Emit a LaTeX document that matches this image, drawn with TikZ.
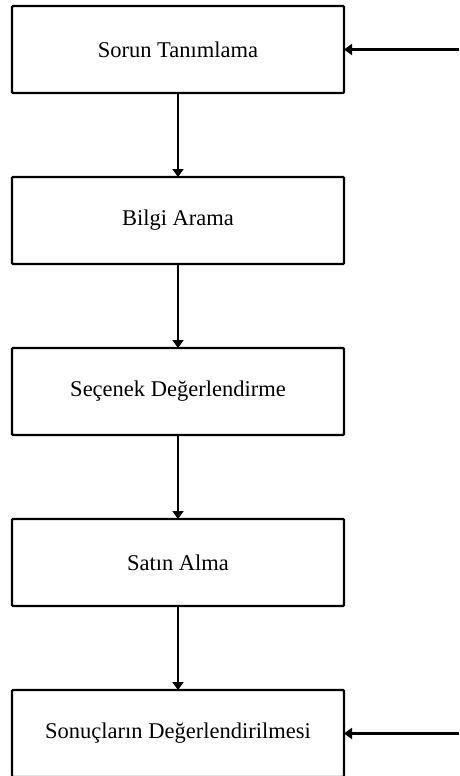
\documentclass[tikz,border=0pt]{standalone}
\usepackage{fontspec}
\setmainfont{Liberation Serif}
\usetikzlibrary{arrows.meta,positioning}

\tikzset{
  stagebox/.style={draw,line width=2.2pt,rounded corners=1pt,minimum width=332pt,minimum height=87pt,inner sep=0pt,outer sep=0pt,font=\fontsize{22.5}{25}\selectfont},
  flow/.style={line width=2.2pt,-{Triangle[length=8pt,width=11pt]}}
}

\begin{document}
\begin{tikzpicture}[x=1pt,y=1pt,node distance=84pt]
\useasboundingbox (0,0) rectangle (459,-776);

% Stages
\node[stagebox] (sorun) at (178,-49.5) {Sorun Tanımlama};
\node[stagebox,below=of sorun] (bilgi) {Bilgi Arama};
\node[stagebox,below=of bilgi] (secenek) {Seçenek Değerlendirme};
\node[stagebox,below=of secenek] (satin) {Satın Alma};
\node[stagebox,below=of satin] (sonuc) {Sonuçların Değerlendirilmesi};

% Flow
\draw[flow] (sorun) -- (bilgi);
\draw[flow] (bilgi) -- (secenek);
\draw[flow] (secenek) -- (satin);
\draw[flow] (satin) -- (sonuc);

% Side inputs
\coordinate[right=115pt of sorun.east] (in1);
\coordinate[right=115pt of sonuc.east] (in2);
\draw[flow] (in1) -- (sorun.east);
\draw[flow] (in2) -- (sonuc.east);
\end{tikzpicture}
\end{document}
